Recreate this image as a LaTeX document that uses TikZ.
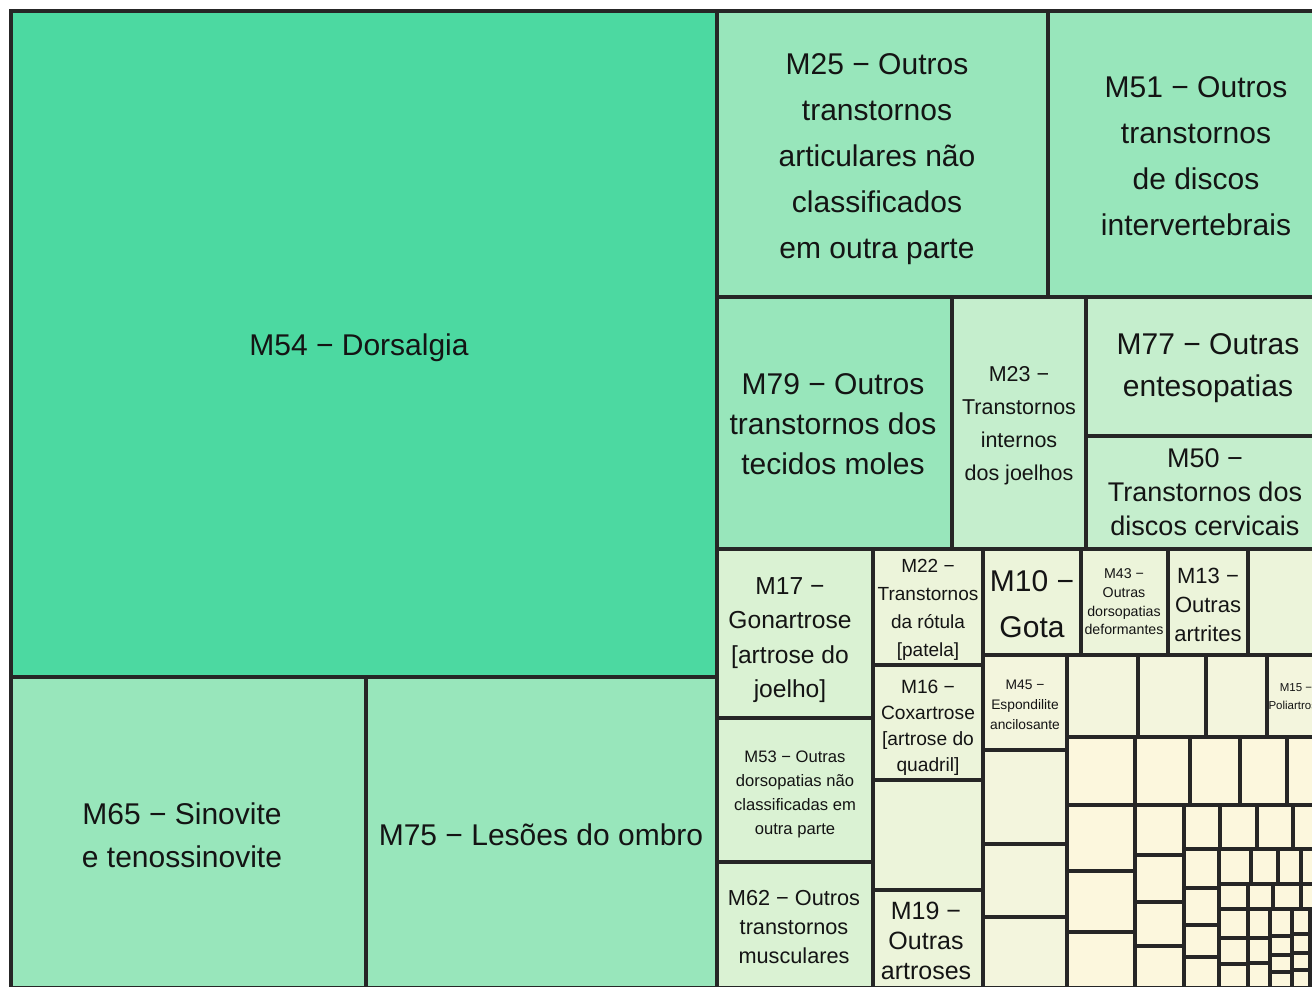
\documentclass[tikz,border=0pt]{standalone}
\usepackage{fontspec}
\setmainfont{Liberation Sans}
\definecolor{greenA}{HTML}{4CD9A1}
\definecolor{greenB}{HTML}{98E6BB}
\definecolor{greenC}{HTML}{C5EECD}
\definecolor{greenD}{HTML}{DAF2D3}
\definecolor{creamA}{HTML}{ECF4DA}
\definecolor{creamB}{HTML}{F3F5DD}
\definecolor{creamC}{HTML}{FCF7DD}
\definecolor{edge}{HTML}{262626}
\definecolor{ink}{HTML}{141414}

\begin{document}
\begin{tikzpicture}[x=0.5pt, y=-0.5pt]
    \tikzstyle{leading} = [draw=edge, line width=1.55pt, fill=greenA]
    \tikzstyle{major}   = [draw=edge, line width=1.55pt, fill=greenB]
    \tikzstyle{middle}  = [draw=edge, line width=1.55pt, fill=greenC]
    \tikzstyle{minor}   = [draw=edge, line width=1.55pt, fill=greenD]
    \tikzstyle{lesser}  = [draw=edge, line width=1.55pt, fill=creamA]
    \tikzstyle{little}  = [draw=edge, line width=1.55pt, fill=creamB]
    \tikzstyle{least}   = [draw=edge, line width=1.55pt, fill=creamC]
    \tikzstyle{entry}   = [align=center, inner sep=0pt, text=ink]

    % Page
    \useasboundingbox (0,0) rectangle (1312,986);
    \fill[white] (0,0) rectangle (1312,986);
    \clip (0,0) rectangle (1312,986);

    % Largest groups
    \draw [leading] (11,11)    rectangle (717,677);
    \draw [major]   (11,677)   rectangle (366,988);
    \draw [major]   (366,677)  rectangle (717,988);
    \draw [major]   (717,11)   rectangle (1048,297);
    \draw [major]   (1048,11)  rectangle (1325,297);
    \draw [major]   (717,297)  rectangle (952,549);
    \draw [middle]  (952,297)  rectangle (1086,549);
    \draw [middle]  (1086,297) rectangle (1325,436);
    \draw [middle]  (1086,436) rectangle (1325,549);

    % Medium groups
    \draw [minor]   (717,549)  rectangle (873,718);
    \draw [minor]   (717,718)  rectangle (873,862);
    \draw [minor]   (717,862)  rectangle (873,988);
    \draw [lesser]  (873,549)  rectangle (983,665);
    \draw [lesser]  (873,665)  rectangle (983,780);
    \draw [lesser]  (873,780)  rectangle (983,890);
    \draw [lesser]  (873,890)  rectangle (983,988);
    \draw [lesser]  (983,549)  rectangle (1081,655);
    \draw [lesser]  (1081,549) rectangle (1168,655);
    \draw [lesser]  (1168,549) rectangle (1248,655);
    \draw [lesser]  (1248,549) rectangle (1325,655);

    % Small groups
    \foreach \xa/\ya/\xb/\yb in {983/655/1067/750, 983/750/1067/844, 983/844/1067/917, 983/917/1067/988,
        1067/655/1138/737, 1138/655/1206/737, 1206/655/1267/737, 1267/655/1325/737}
        \draw [little] (\xa,\ya) rectangle (\xb,\yb);

    % Remaining groups
    \foreach \xa/\ya/\xb/\yb in {1067/737/1135/805, 1135/737/1190/805, 1190/737/1240/805, 1240/737/1287/805, 1287/737/1325/805,
        1067/805/1135/871, 1067/871/1135/932, 1067/932/1135/988,
        1135/805/1184/855, 1135/855/1184/902, 1135/902/1184/946, 1135/946/1184/988,
        1184/805/1220/849, 1220/805/1257/849, 1257/805/1293/849, 1293/805/1325/849,
        1184/849/1219/888, 1184/888/1219/925, 1184/925/1219/957, 1184/957/1219/988,
        1219/849/1251/884, 1251/849/1278/884, 1278/849/1301/884, 1301/849/1325/884,
        1219/884/1248/909, 1219/909/1248/938, 1219/938/1248/964, 1219/964/1248/988,
        1248/884/1273/909, 1273/884/1301/909, 1301/884/1325/909,
        1248/909/1270/938, 1248/938/1270/963, 1248/963/1270/988,
        1270/909/1292/936, 1270/936/1292/955, 1270/955/1292/972, 1270/972/1292/988,
        1292/909/1310/934, 1292/934/1310/953, 1292/953/1310/970, 1292/970/1310/988,
        1310/909/1325/928, 1310/928/1325/946, 1310/946/1325/962, 1310/962/1325/976, 1310/976/1325/988}
        \draw [least] (\xa,\ya) rectangle (\xb,\yb);

    % Labels
    \node [entry, font=\fontsize{15}{23}\selectfont] (m54) at (359,348) {M54 − Dorsalgia};
    \node [entry, font=\fontsize{15}{21.5}\selectfont] (m65) at (182,835) {M65 − Sinovite\\e tenossinovite};
    \node [entry, font=\fontsize{15}{23}\selectfont] (m75) at (541,835) {M75 − Lesões do ombro};
    \node [entry, font=\fontsize{15}{23}\selectfont] (m25) at (877,159) {M25 − Outros\\transtornos\\articulares não\\classificados\\em outra parte};
    \node [entry, font=\fontsize{15}{23}\selectfont] (m51) at (1196,156) {M51 − Outros\\transtornos\\de discos\\intervertebrais};
    \node [entry, font=\fontsize{15}{20}\selectfont] (m79) at (833,424) {M79 − Outros\\transtornos dos\\tecidos moles};
    \node [entry, font=\fontsize{10.75}{16.5}\selectfont] (m23) at (1019,426) {M23 −\\Transtornos\\internos\\dos joelhos};
    \node [entry, font=\fontsize{15}{21}\selectfont] (m77) at (1208,368) {M77 − Outras\\entesopatias};
    \node [entry, font=\fontsize{13.5}{17}\selectfont] (m50) at (1205,492) {M50 −\\Transtornos dos\\discos cervicais};
    \node [entry, font=\fontsize{12.3}{17.3}\selectfont] (m17) at (790,640) {M17 −\\Gonartrose\\{[}artrose do\\joelho]};
    \node [entry, font=\fontsize{8.3}{12}\selectfont] (m53) at (795,794) {M53 − Outras\\dorsopatias não\\classificadas em\\outra parte};
    \node [entry, font=\fontsize{10.85}{14.5}\selectfont] (m62) at (794,927) {M62 − Outros\\transtornos\\musculares};
    \node [entry, font=\fontsize{9.5}{14}\selectfont] (m22) at (928,610) {M22 −\\Transtornos\\da rótula\\{[}patela]};
    \node [entry, font=\fontsize{9.6}{13}\selectfont] (m16) at (928,728) {M16 −\\Coxartrose\\{[}artrose do\\quadril]};
    \node [entry, font=\fontsize{12.5}{15}\selectfont] (m19) at (926,941) {M19 −\\Outras\\artroses};
    \node [entry, font=\fontsize{15}{23}\selectfont] (m10) at (1032,604) {M10 −\\Gota};
    \node [entry, font=\fontsize{7.1}{9.3}\selectfont] (m43) at (1124,602) {M43 −\\Outras\\dorsopatias\\deformantes};
    \node [entry, font=\fontsize{11}{14.5}\selectfont] (m13) at (1208,605) {M13 −\\Outras\\artrites};
    \node [entry, font=\fontsize{6.9}{10}\selectfont] (m45) at (1025,705) {M45 −\\Espondilite\\ancilosante};
    \node [entry, font=\fontsize{5.75}{9}\selectfont] (m15) at (1296,697) {M15 −\\Poliartrose};

\end{tikzpicture}
\end{document}
